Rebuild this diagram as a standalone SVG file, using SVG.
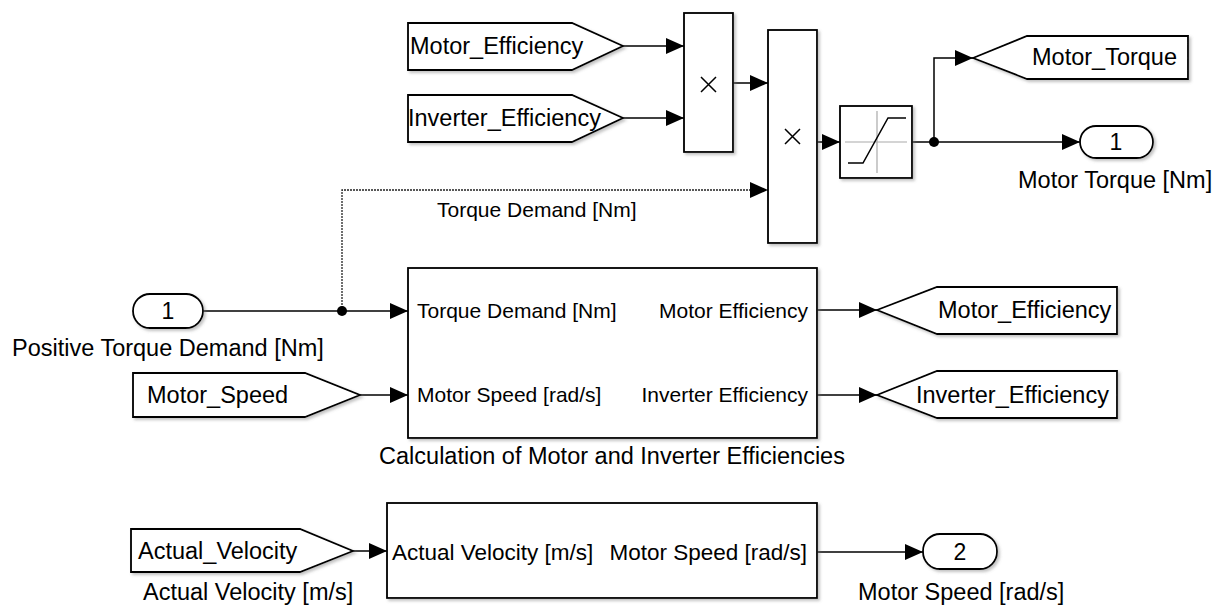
<svg xmlns="http://www.w3.org/2000/svg" width="1223" height="605" viewBox="0 0 1223 605">
<defs>
<filter id="sh" x="-10%" y="-10%" width="130%" height="130%">
<feDropShadow dx="2" dy="2" stdDeviation="1.5" flood-color="#777" flood-opacity="0.45"/>
</filter>
<marker id="ah" viewBox="0 0 18 16" markerWidth="18" markerHeight="16" refX="18" refY="8" orient="auto" markerUnits="userSpaceOnUse">
<path d="M0,0 L18,8 L0,16 z" fill="#000"/>
</marker>
<style>
.blk{fill:#fff;stroke:#000;stroke-width:1.8;filter:url(#sh)}
.w{stroke:#000;stroke-width:1.5;fill:none;marker-end:url(#ah)}
.thin{stroke:#222;stroke-width:1.3;fill:none;stroke-dasharray:2 1;marker-end:url(#ah)}
text{font-family:"Liberation Sans",Arial,sans-serif;fill:#000}
.tag{font-size:23.5px}
.lbl{font-size:23.5px}
.port{font-size:21px}
.vport{font-size:22.5px}
.num{font-size:23px;text-anchor:middle}
.dot{fill:#000}
.icon{stroke:#000;stroke-width:1.5;fill:none}
.gray{stroke:#aaa;stroke-width:1.2;fill:none}
</style>
</defs>
<rect width="1223" height="605" fill="#fff"/>

<g id="connectors">
<path class="w" d="M623,46 H684"/>
<path class="w" d="M623,118 H684"/>
<path class="w" d="M733,83 H768"/>
<path class="thin" d="M342,311 V190 H768"/>
<path class="w" d="M817,142 H840"/>
<path class="w" d="M912,142 H1080"/>
<path class="w" d="M934,142 V58 H973"/>
<path class="w" d="M203,311 H408"/>
<path class="w" d="M360,395 H408"/>
<path class="w" d="M817,310 H877"/>
<path class="w" d="M817,395 H877"/>
<path class="w" d="M353,551 H387"/>
<path class="w" d="M817,552 H923"/>
<circle class="dot" cx="342" cy="311" r="5"/>
<circle class="dot" cx="934" cy="142" r="5"/>
<text class="port" x="437" y="217">Torque Demand [Nm]</text>
</g>

<g id="from_motor_eff">
<polygon class="blk" points="408,23 572,23 623,46 572,70 408,70"/>
<text class="tag" x="410" y="54">Motor_Efficiency</text>
</g>
<g id="from_inverter_eff">
<polygon class="blk" points="408,95 572,95 623,118 572,142 408,142"/>
<text class="tag" x="408" y="126">Inverter_Efficiency</text>
</g>
<g id="product1">
<rect class="blk" x="684" y="13" width="49" height="139"/>
<path class="icon" d="M701,77 L716,92 M716,77 L701,92"/>
</g>
<g id="product2">
<rect class="blk" x="768" y="30" width="49" height="213"/>
<path class="icon" d="M785,129 L800,144 M800,129 L785,144"/>
</g>
<g id="saturation">
<rect class="blk" x="840" y="106" width="72" height="72"/>
<path class="gray" d="M845,142 H907 M877,111 V173"/>
<polyline class="icon" points="848,163 863,163 888,118 906,118"/>
</g>
<g id="goto_motor_torque">
<polygon class="blk" points="973,58 1027,36 1188,36 1188,79 1027,79"/>
<text class="tag" x="1032" y="65">Motor_Torque</text>
</g>
<g id="outport1">
<rect class="blk" x="1080" y="126" width="73" height="32" rx="16"/>
<text class="num" x="1116" y="150">1</text>
<text class="lbl" x="1018" y="188">Motor Torque [Nm]</text>
</g>
<g id="inport1">
<rect class="blk" x="133" y="294" width="70" height="34" rx="17"/>
<text class="num" x="168" y="319">1</text>
<text class="lbl" x="12" y="356">Positive Torque Demand [Nm]</text>
</g>
<g id="from_motor_speed">
<polygon class="blk" points="133,373 305,373 360,395 305,417 133,417"/>
<text class="tag" x="147" y="403">Motor_Speed</text>
</g>
<g id="calc_efficiencies">
<rect class="blk" x="408" y="268" width="409" height="170"/>
<text class="port" x="417" y="318">Torque Demand [Nm]</text>
<text class="port" x="417" y="402">Motor Speed [rad/s]</text>
<text class="port" x="808" y="318" text-anchor="end">Motor Efficiency</text>
<text class="port" x="808" y="402" text-anchor="end">Inverter Efficiency</text>
<text class="lbl" x="612" y="464" text-anchor="middle">Calculation of Motor and Inverter Efficiencies</text>
</g>
<g id="goto_motor_eff">
<polygon class="blk" points="877,310 937,287 1117,287 1117,334 937,334"/>
<text class="tag" x="938" y="318">Motor_Efficiency</text>
</g>
<g id="goto_inverter_eff">
<polygon class="blk" points="877,395 937,371 1117,371 1117,418 937,418"/>
<text class="tag" x="916" y="403">Inverter_Efficiency</text>
</g>
<g id="from_actual_velocity">
<polygon class="blk" points="131,529 300,529 353,551 300,572 131,572"/>
<text class="tag" x="138" y="559">Actual_Velocity</text>
<text class="lbl" x="143" y="600">Actual Velocity [m/s]</text>
</g>
<g id="velocity_to_speed">
<rect class="blk" x="387" y="503" width="430" height="95"/>
<text class="vport" x="392" y="560">Actual Velocity [m/s]</text>
<text class="vport" x="807" y="560" text-anchor="end">Motor Speed [rad/s]</text>
</g>
<g id="outport2">
<rect class="blk" x="923" y="534" width="74" height="35" rx="17"/>
<text class="num" x="960" y="560">2</text>
<text class="lbl" x="858" y="600">Motor Speed [rad/s]</text>
</g>
</svg>
